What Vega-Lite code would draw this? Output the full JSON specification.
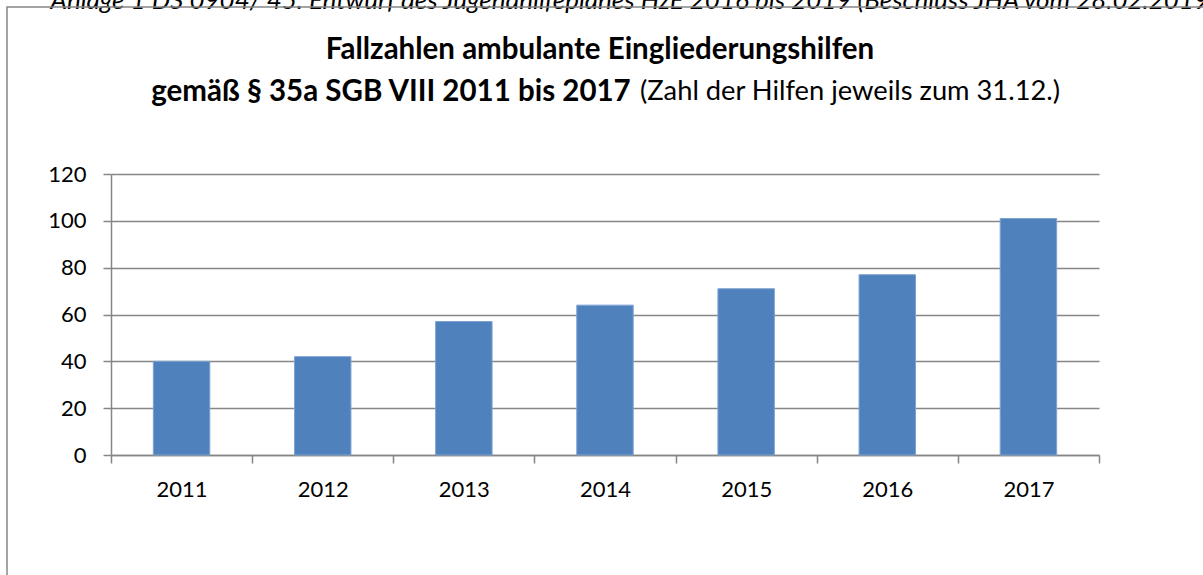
{
  "$schema": "https://vega.github.io/schema/vega-lite/v6.json",
  "width": 988,
  "height": 281,
  "autosize": "none",
  "padding": {"left": 111, "top": 174, "right": 104, "bottom": 120},
  "background": "white",
  "data": {
    "values": [
      {"Jahr": "2011", "Fallzahl": 40},
      {"Jahr": "2012", "Fallzahl": 42},
      {"Jahr": "2013", "Fallzahl": 57},
      {"Jahr": "2014", "Fallzahl": 64},
      {"Jahr": "2015", "Fallzahl": 71},
      {"Jahr": "2016", "Fallzahl": 77},
      {"Jahr": "2017", "Fallzahl": 101}
    ]
  },
  "title": {
    "text": ["Fallzahlen ambulante Eingliederungshilfen", "gemäß § 35a SGB VIII 2011 bis 2017⠀⠀⠀⠀⠀⠀⠀⠀⠀⠀⠀⠀⠀⠀⠀⠀⠀⠀⠀"],
    "subtitle": "⠀⠀⠀⠀⠀⠀⠀⠀⠀⠀⠀⠀⠀⠀⠀⠀⠀⠀⠀⠀⠀⠀⠀⠀⠀(Zahl der Hilfen jeweils zum 31.12.)",
    "font": "Lato",
    "fontSize": 29.5,
    "fontWeight": "bold",
    "color": "#000000",
    "lineHeight": 42,
    "subtitleFont": "Lato",
    "subtitleFontSize": 27.3,
    "subtitleColor": "#000000",
    "subtitlePadding": -29,
    "anchor": "middle",
    "frame": "group",
    "offset": -120,
    "dx": -5
  },
  "mark": {"type": "bar", "width": {"band": 0.4}, "stroke": "#7ea3d0", "strokeWidth": 1},
  "encoding": {
    "x": {
      "field": "Jahr",
      "type": "ordinal",
      "scale": {"paddingInner": 0, "paddingOuter": 0},
      "axis": {
        "title": "Anlage 1 DS 0904/ 45. Entwurf des Jugendhilfeplanes HzE 2016 bis 2019 (Beschluss JHA vom 28.02.2019)",
        "titleFont": "Lato",
        "titleFontSize": 26,
        "titleFontStyle": "italic",
        "titleFontWeight": "normal",
        "titleColor": "#000000",
        "titleAlign": "left",
        "titleAnchor": "start",
        "titleBaseline": "alphabetic",
        "titleX": -61,
        "titleY": -447,
        "labelAngle": 0,
        "labelFont": "Lato",
        "labelFontSize": 22,
        "labelColor": "#000000",
        "labelPadding": 16,
        "tickBand": "extent",
        "tickSize": 8,
        "tickColor": "#868686",
        "tickWidth": 1.5,
        "domainColor": "#868686",
        "domainWidth": 1.5,
        "grid": false
      }
    },
    "y": {
      "field": "Fallzahl",
      "type": "quantitative",
      "scale": {"domain": [0, 120], "nice": false},
      "axis": {
        "title": null,
        "values": [0, 20, 40, 60, 80, 100, 120],
        "labelFont": "Lato",
        "labelFontSize": 22,
        "labelColor": "#000000",
        "labelPadding": 17,
        "tickSize": 8,
        "tickColor": "#868686",
        "tickWidth": 1.5,
        "domainColor": "#868686",
        "domainWidth": 1.5,
        "grid": true,
        "gridColor": "#868686",
        "gridWidth": 1.5
      }
    },
    "color": {
      "datum": "Fallzahl",
      "scale": {"range": ["#4f81bd"]},
      "legend": {
        "orient": "none",
        "legendX": -104,
        "legendY": -167,
        "padding": 700,
        "strokeColor": "#868686",
        "title": null,
        "symbolOpacity": 0,
        "labelOpacity": 0,
        "symbolSize": 1,
        "labelFontSize": 1
      }
    }
  },
  "config": {
    "view": {"stroke": null},
    "legend": {"strokeWidth": 1.5}
  }
}
